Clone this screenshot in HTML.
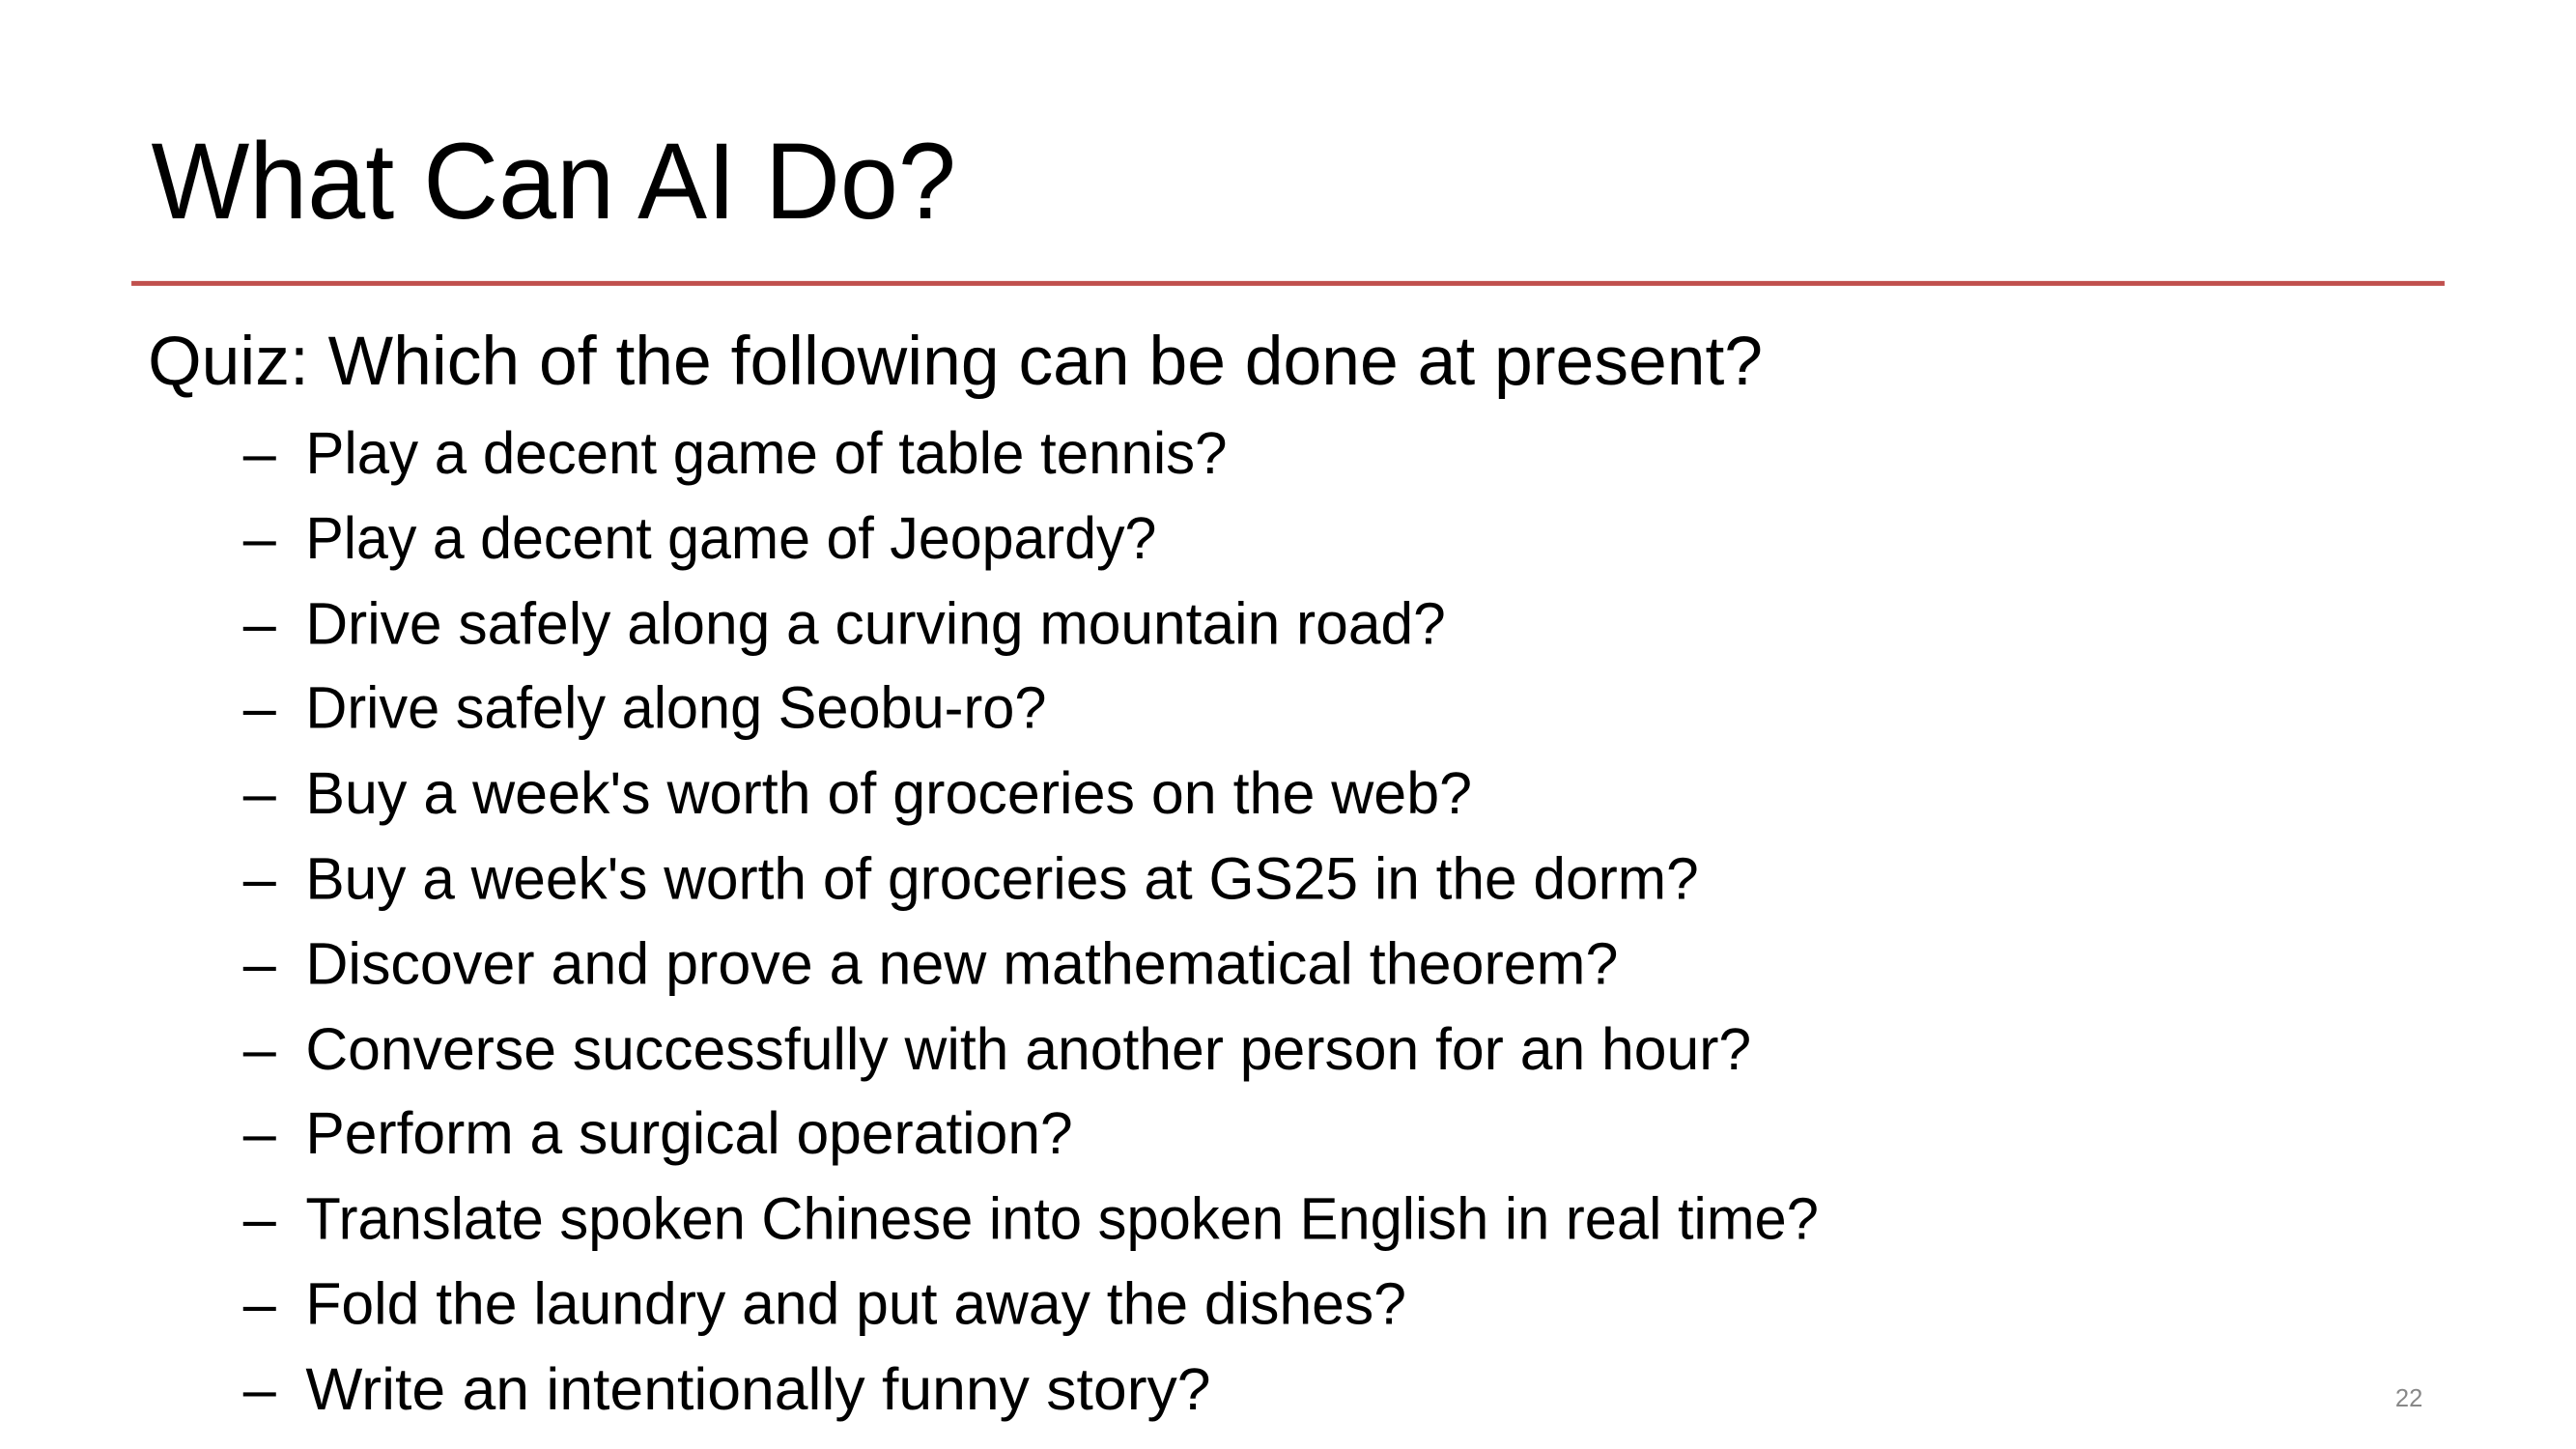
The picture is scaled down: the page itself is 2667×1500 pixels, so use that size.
<!DOCTYPE html>
<html><head><meta charset="utf-8"><style>
html,body{margin:0;padding:0;background:#fff;}
svg{display:block;}
text{font-family:"Liberation Sans",sans-serif;fill:#000;}
</style></head><body>
<svg width="2667" height="1500" viewBox="0 0 1568 882" preserveAspectRatio="none" xmlns="http://www.w3.org/2000/svg">
<rect width="1568" height="882" fill="#fff"/>
<text x="92" y="133" font-size="66" textLength="490" lengthAdjust="spacingAndGlyphs">What Can AI Do?</text>
<line x1="80" y1="172.5" x2="1488" y2="172.5" stroke="#c0504d" stroke-width="3"/>
<text x="90" y="234" font-size="42" textLength="983" lengthAdjust="spacingAndGlyphs">Quiz: Which of the following can be done at present?</text>
<g font-size="36">
<text x="148" y="288">–</text><text x="186" y="288" textLength="561" lengthAdjust="spacingAndGlyphs">Play a decent game of table tennis?</text>
<text x="148" y="340">–</text><text x="186" y="340" textLength="518" lengthAdjust="spacingAndGlyphs">Play a decent game of Jeopardy?</text>
<text x="148" y="392">–</text><text x="186" y="392" textLength="694" lengthAdjust="spacingAndGlyphs">Drive safely along a curving mountain road?</text>
<text x="148" y="443">–</text><text x="186" y="443" textLength="451" lengthAdjust="spacingAndGlyphs">Drive safely along Seobu-ro?</text>
<text x="148" y="495">–</text><text x="186" y="495" textLength="710" lengthAdjust="spacingAndGlyphs">Buy a week's worth of groceries on the web?</text>
<text x="148" y="547">–</text><text x="186" y="547" textLength="848" lengthAdjust="spacingAndGlyphs">Buy a week's worth of groceries at GS25 in the dorm?</text>
<text x="148" y="599">–</text><text x="186" y="599" textLength="799" lengthAdjust="spacingAndGlyphs">Discover and prove a new mathematical theorem?</text>
<text x="148" y="651">–</text><text x="186" y="651" textLength="880" lengthAdjust="spacingAndGlyphs">Converse successfully with another person for an hour?</text>
<text x="148" y="702">–</text><text x="186" y="702" textLength="467" lengthAdjust="spacingAndGlyphs">Perform a surgical operation?</text>
<text x="148" y="754">–</text><text x="186" y="754" textLength="921" lengthAdjust="spacingAndGlyphs">Translate spoken Chinese into spoken English in real time?</text>
<text x="148" y="806">–</text><text x="186" y="806" textLength="670" lengthAdjust="spacingAndGlyphs">Fold the laundry and put away the dishes?</text>
<text x="148" y="858">–</text><text x="186" y="858" textLength="551" lengthAdjust="spacingAndGlyphs">Write an intentionally funny story?</text>
</g>
<text x="1458" y="856" font-size="15" style="fill:#888">22</text>
</svg>
</body></html>
